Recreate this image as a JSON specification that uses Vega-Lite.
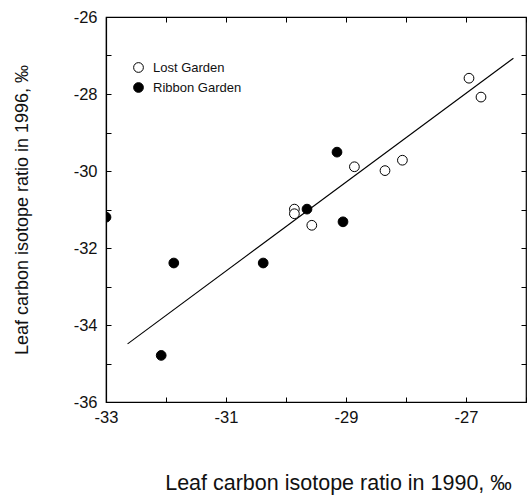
{
  "$schema": "https://vega.github.io/schema/vega-lite/v6.json",
  "width": 420,
  "height": 385,
  "autosize": "none",
  "padding": {"left": 106, "top": 17, "right": 1, "bottom": 93},
  "background": "white",
  "config": {
    "view": {"stroke": "black", "strokeWidth": 1.2},
    "font": "Liberation Sans",
    "axis": {
      "grid": false,
      "domainColor": "black",
      "domainWidth": 1.2,
      "tickColor": "black",
      "tickWidth": 1,
      "labelFont": "Liberation Sans",
      "labelFontSize": 16.5,
      "labelColor": "#111",
      "labelFlush": false,
      "titleFont": "Liberation Sans",
      "titleFontWeight": "normal",
      "titleColor": "#111"
    }
  },
  "datasets": {
    "pts": [
      {"site": "Lost Garden", "x": -29.86, "y": -30.99},
      {"site": "Lost Garden", "x": -29.86, "y": -31.11},
      {"site": "Lost Garden", "x": -29.57, "y": -31.41},
      {"site": "Lost Garden", "x": -28.86, "y": -29.89},
      {"site": "Lost Garden", "x": -28.35, "y": -29.99},
      {"site": "Lost Garden", "x": -28.06, "y": -29.72},
      {"site": "Lost Garden", "x": -26.95, "y": -27.59},
      {"site": "Lost Garden", "x": -26.75, "y": -28.08},
      {"site": "Ribbon Garden", "x": -33.0, "y": -31.2},
      {"site": "Ribbon Garden", "x": -31.87, "y": -32.39},
      {"site": "Ribbon Garden", "x": -32.08, "y": -34.79},
      {"site": "Ribbon Garden", "x": -30.38, "y": -32.39},
      {"site": "Ribbon Garden", "x": -29.65, "y": -30.99},
      {"site": "Ribbon Garden", "x": -29.05, "y": -31.32},
      {"site": "Ribbon Garden", "x": -29.15, "y": -29.51}
    ],
    "fit": [
      {"x": -32.64, "y": -34.49},
      {"x": -26.21, "y": -27.07}
    ]
  },
  "layer": [
    {
      "data": {"name": "fit"},
      "mark": {"type": "line", "color": "black", "strokeWidth": 1.1},
      "encoding": {
        "x": {"field": "x", "type": "quantitative", "scale": {"domain": [-33, -26], "nice": false, "zero": false},
          "axis": {"orient": "top", "labels": false, "title": null, "domain": false, "values": [-33,-32,-31,-30,-29,-28,-27,-26], "tickSize": -5}},
        "y": {"field": "y", "type": "quantitative", "scale": {"domain": [-36, -26], "nice": false, "zero": false},
          "axis": {"orient": "right", "labels": false, "title": null, "domain": false, "values": [-36,-35,-34,-33,-32,-31,-30,-29,-28,-27,-26], "tickSize": -5}}
      }
    },
    {
      "data": {"name": "pts"},
      "mark": {"type": "point", "filled": true, "size": 95, "stroke": "black", "strokeWidth": 1, "opacity": 1, "clip": true},
      "encoding": {
        "x": {"field": "x", "type": "quantitative", "scale": {"domain": [-33, -26], "nice": false, "zero": false},
          "axis": {"orient": "bottom", "title": "Leaf carbon isotope ratio in 1990, ‰", "values": [-33,-32,-31,-30,-29,-28,-27,-26],
            "labelExpr": "abs(datum.value % 2) == 1 ? ('' + datum.value) : ''", "tickSize": -5, "labelPadding": 12,
            "titleFontSize": 21.5, "titleX": 232, "titleY": 70, "titleAnchor": "middle", "titleAlign": "center"}},
        "y": {"field": "y", "type": "quantitative", "scale": {"domain": [-36, -26], "nice": false, "zero": false},
          "axis": {"orient": "left", "title": "Leaf carbon isotope ratio in 1996, ‰", "values": [-36,-35,-34,-33,-32,-31,-30,-29,-28,-27,-26],
            "labelExpr": "datum.value % 2 == 0 ? ('' + datum.value) : ''", "tickSize": -5, "labelPadding": 14, "titlePadding": 42, "titleFontSize": 18}},
        "fill": {"field": "site", "type": "nominal", "scale": {"domain": ["Lost Garden", "Ribbon Garden"], "range": ["white", "black"]},
          "legend": {"title": null, "orient": "none", "legendX": 26, "legendY": 44, "symbolType": "circle", "symbolSize": 95,
            "symbolStrokeColor": "black", "symbolStrokeWidth": 1, "labelFontSize": 13, "labelFont": "Liberation Sans", "labelColor": "#111", "rowPadding": 5, "labelOffset": 8}}
      }
    }
  ],
  "resolve": {"axis": {"x": "independent", "y": "independent"}}
}
